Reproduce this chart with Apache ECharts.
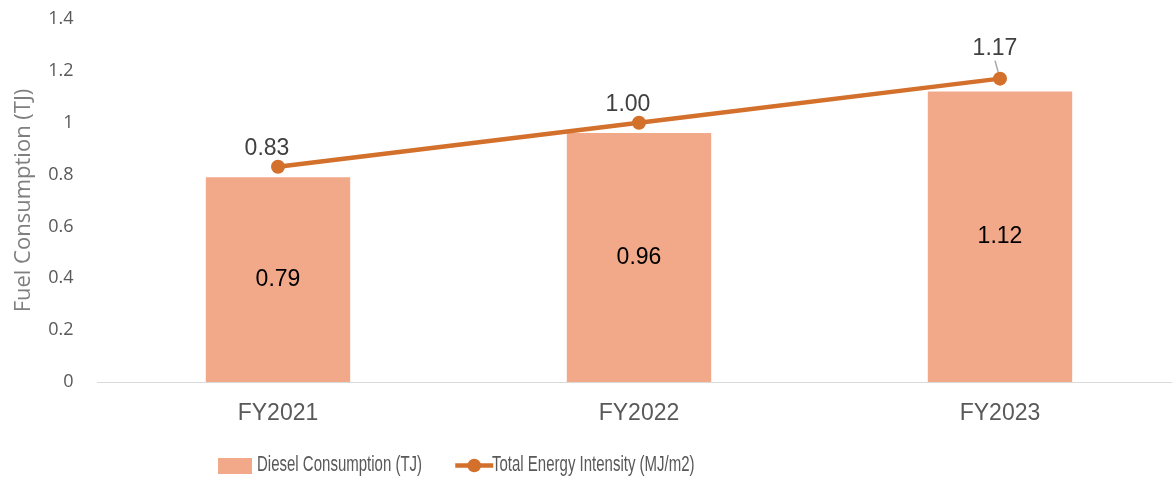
<!DOCTYPE html>
<html>
<head>
<meta charset="utf-8">
<script src="https://cdn.jsdelivr.net/npm/echarts@6/dist/echarts.min.js"></script>
<style>
  html, body { margin: 0; padding: 0; background: #fff; }
  #chart { width: 1172px; height: 483px; }
</style>
</head>
<body>
<div id="chart"></div>
<script>
// Fiscal years and their values
const categories = ['FY2021', 'FY2022', 'FY2023'];
const dieselConsumption = [0.79, 0.96, 1.12];
const energyIntensity = [0.83, 1.00, 1.17];
const yTicks = { min: 0, max: 1.4, interval: 0.2 };
const seriesNames = ['Diesel Consumption (TJ)', 'Total Energy Intensity (MJ/m2)'];

const barColor = '#F1A98A';
const lineColor = '#D2702C';
const legendFont = '22px "Liberation Sans", Arial, sans-serif';

const chart = echarts.init(document.getElementById('chart'));

// Legend labels are drawn narrow, like a condensed face
function legendLabel(text, x) {
  return {
    type: 'text',
    left: x,
    top: 454,
    scaleX: 0.682,
    originX: 0,
    style: { text: text, font: legendFont, fill: '#595959' }
  };
}

chart.setOption({
  animation: false,
  grid: { left: 97.5, right: -8.5, top: 19, bottom: 101, outerBoundsMode: 'none' },
  legend: [
    {
      data: [{ name: seriesNames[0], icon: 'rect' }],
      left: 213, top: 453,
      itemWidth: 34, itemHeight: 16,
      formatter: () => '',
      selectedMode: false
    },
    {
      data: [{ name: seriesNames[1] }],
      left: 448, top: 452,
      itemWidth: 38, itemHeight: 17,
      lineStyle: { width: 4.5 },
      formatter: () => '',
      selectedMode: false
    }
  ],
  graphic: [
    legendLabel(seriesNames[0], 257),
    legendLabel(seriesNames[1], 492)
  ],
  xAxis: {
    type: 'category',
    data: categories,
    axisTick: { show: false },
    axisLine: { lineStyle: { color: '#d9d9d9', width: 1 } },
    axisLabel: { fontFamily: 'Liberation Sans, Arial, sans-serif', fontSize: 23, color: '#595959', margin: 20 }
  },
  yAxis: {
    type: 'value',
    min: yTicks.min,
    max: yTicks.max,
    interval: yTicks.interval,
    name: 'Fuel Consumption (TJ)',
    nameLocation: 'middle',
    nameGap: 63,
    nameTextStyle: { fontFamily: 'Open Sans, sans-serif', fontSize: 22, color: '#7f7f7f' },
    splitLine: { show: false },
    axisLine: { show: false },
    axisTick: { show: false },
    axisLabel: {
      fontFamily: 'Open Sans, sans-serif', fontSize: 18, color: '#595959', margin: 24,
      formatter: v => String(Math.round(v * 10) / 10)
    }
  },
  series: [
    {
      name: seriesNames[0],
      type: 'bar',
      data: dieselConsumption,
      barWidth: '40%',
      itemStyle: { color: barColor },
      label: {
        show: true,
        position: 'inside',
        formatter: p => p.value.toFixed(2),
        fontFamily: 'Liberation Sans, Arial, sans-serif',
        fontSize: 23,
        color: '#000'
      }
    },
    {
      name: seriesNames[1],
      type: 'line',
      data: energyIntensity.map((v, i) => i === 2
        ? { value: v, labelLine: { show: true, lineStyle: { color: '#a6a6a6', width: 1.5 } } }
        : v),
      symbol: 'circle',
      symbolSize: 14,
      lineStyle: { color: lineColor, width: 4.5 },
      itemStyle: { color: lineColor },
      label: {
        show: true,
        position: 'top',
        distance: 6,
        formatter: p => p.value.toFixed(2),
        fontFamily: 'Liberation Sans, Arial, sans-serif',
        fontSize: 23,
        color: '#404040'
      },
      // labels sit a little left of their points; the last one is lifted clear with a leader line
      labelLayout: p => p.dataIndex === 2 ? { dx: -5, dy: -5 } : { dx: -11, dy: 6 },
      z: 3
    }
  ]
});
</script>
</body>
</html>
